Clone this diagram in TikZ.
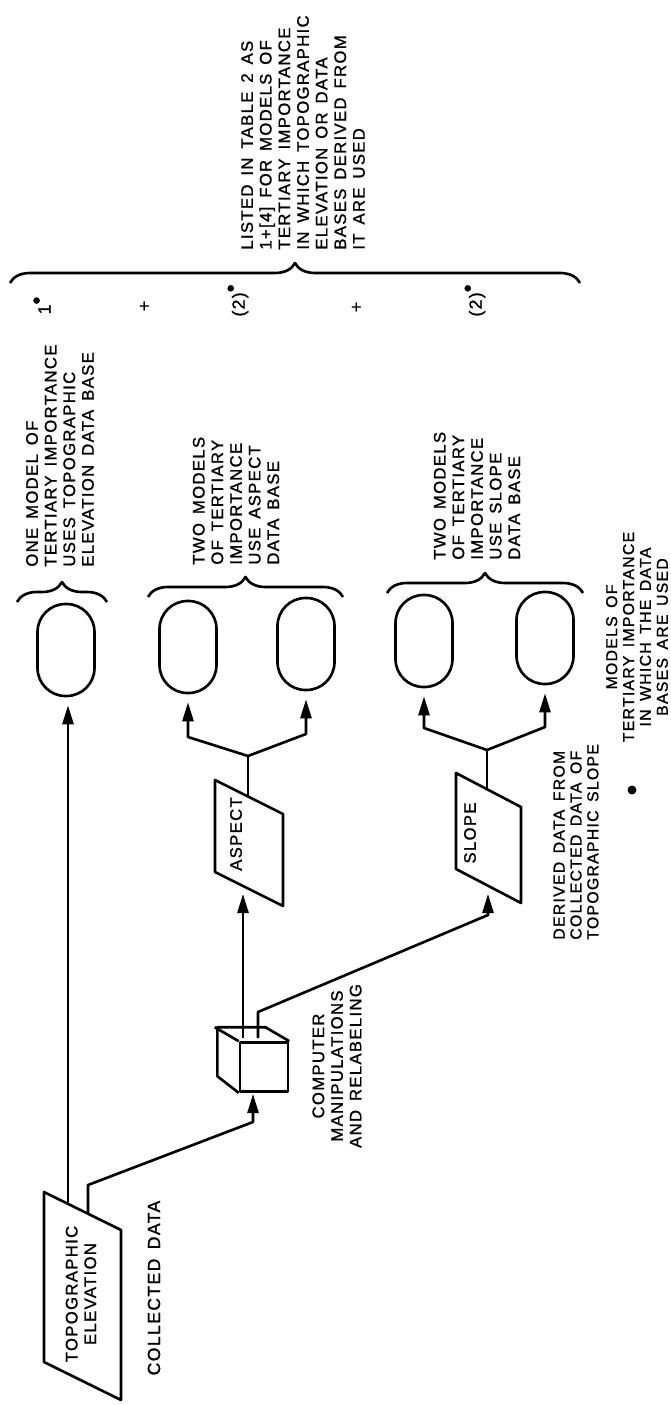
\documentclass[tikz,border=0pt]{standalone}
\usepackage{fontspec}
\newfontfamily\lettering[LetterSpace=8,WordSpace=1.5,FakeBold=1.2]{Liberation Sans}
\usetikzlibrary{arrows.meta,decorations.pathreplacing}

\tikzset{
  flow/.style={line width=1.5pt, line join=round},
  arr/.style={flow, -{Triangle[length=3.8mm,width=2.2mm]}, shorten >=1.6mm},
  model/.style={draw, line width=1.5pt, rounded corners=5.6mm,
    minimum width=11.4mm, minimum height=18.4mm, inner sep=0},
  note/.style={rotate=90, inner sep=0, align=left,
    font=\lettering\fontsize{9.5}{10.6}\selectfont},
  small note/.style={note, font=\lettering\fontsize{9}{9.6}\selectfont},
  big note/.style={note, font=\lettering\fontsize{10}{10.8}\selectfont},
  grp/.style={flow, decorate, decoration={brace, amplitude=4mm}},
}
\newcommand\fnmark{\textsuperscript{\fontsize{13}{13}\selectfont\textbullet}}

\begin{document}
\begin{tikzpicture}[x=0.2mm, y=-0.2mm]
    \useasboundingbox (0,0) rectangle (670,1405);

    % Models of tertiary importance
    \foreach \n/\x/\y in {1/66/650, 2/188/647, 3/306/644, 4/424/641, 5/545/638}
        \node[model] (m\n) at (\x,\y) {};

    % Data bases (collected and derived)
    \draw[flow] (44,1192) -- (121,1230) -- (121,1400) -- (44,1362) -- cycle;
    \node[note, align=center] (topo) at (81,1294) {TOPOGRAPHIC\\ELEVATION};
    \draw[flow] (215,780) -- (283,814) -- (283,906) -- (215,872) -- cycle;
    \node[note] (aspect) at (236,834) {ASPECT};
    \draw[flow] (456,773) -- (521,807) -- (521,903) -- (456,869) -- cycle;
    \node[note] (slope) at (470,833) {SLOPE};

    % Computer box
    \node[draw, flow, minimum width=9.6mm, minimum height=9.8mm, inner sep=0] (comp) at (264,1067) {};
    \draw[flow] (comp.north east) -- ++(-24,-14) -- ++(-48,0) -- ++(0,49) -- (comp.south west);
    \draw[flow] (comp.north west) -- ++(-24,-14);

    % Connection points
    \coordinate (te1) at (68,1204);
    \coordinate (te2) at (88,1214);
    \coordinate (cs1) at (243,1038);
    \coordinate (cs2) at (258,1038);
    \coordinate (cin) at (253,1092);
    \coordinate (ain) at (243,886);
    \coordinate (sin) at (488,886);
    \coordinate (aout) at (248,797);
    \coordinate (sout) at (487,789);
    \coordinate (aj) at (248,756);
    \coordinate (sj) at (487,750);

    % Flow lines
    \draw[arr] (te1) -- (te1 |- m1.south);
    \draw[arr, shorten >=0.4mm] (te2) -- ++(0,-29) -- (253,1122) -- (cin);
    \draw[arr] (cs1) -- (ain);
    \draw[arr] (cs2) -- ++(0,-26) -- (488,915) -- (sin);
    \draw[flow] (aout) -- (aj);
    \draw[arr] (aj) -- (188,737) -- (m2.south);
    \draw[arr] (aj) -- (306,734) -- (m3.south);
    \draw[flow] (sout) -- (sj);
    \draw[arr] (sj) -- (424,728) -- (m4.south);
    \draw[arr] (sj) -- (545,727) -- (m5.south);

    % Braces
    \draw[grp] (17,602) -- (107,602);
    \draw[grp] (148,597) -- (343,597);
    \draw[grp] (387,593) -- (583,593);
    \draw[grp] (10,283) -- (580,283);

    % Labels
    \node[note, anchor=west] (one) at (60,567) {ONE MODEL OF\\TERTIARY IMPORTANCE\\USES TOPOGRAPHIC\\ELEVATION DATA BASE};
    \node[note, anchor=west] (twoa) at (236,565) {TWO MODELS\\OF TERTIARY\\IMPORTANCE\\USE ASPECT\\DATA BASE};
    \node[note, anchor=west] (twos) at (477,560) {TWO MODELS\\OF TERTIARY\\IMPORTANCE\\USE SLOPE\\DATA BASE};
    \node[note, anchor=west] (listed) at (303,250) {LISTED IN TABLE 2 AS\\1+[4] FOR MODELS OF\\TERTIARY IMPORTANCE\\IN WHICH TOPOGRAPHIC\\ELEVATION OR DATA\\BASES DERIVED FROM\\IT ARE USED};
    \node[big note] (sum1) at (42,305) {1\fnmark};
    \node[big note] (plus1) at (145,306) {+};
    \node[big note] (sum2) at (238,300) {(2)\fnmark};
    \node[big note] (plus2) at (357,307) {+};
    \node[big note] (sum3) at (475,300) {(2)\fnmark};
    \node[note, align=center] (comptxt) at (337,1066) {COMPUTER\\MANIPULATIONS\\AND RELABELING};
    \node[big note] (coll) at (154,1288) {COLLECTED DATA};
    \node[small note, anchor=west] (derived) at (576,940) {DERIVED DATA FROM\\COLLECTED DATA OF\\TOPOGRAPHIC SLOPE};
    \node[small note, align=center] (legend) at (637,637) {MODELS OF\\TERTIARY IMPORTANCE\\IN WHICH THE DATA\\BASES ARE USED};
    \node[circle, fill, inner sep=1.8pt] (mark) at (632,790) {};
\end{tikzpicture}
\end{document}
